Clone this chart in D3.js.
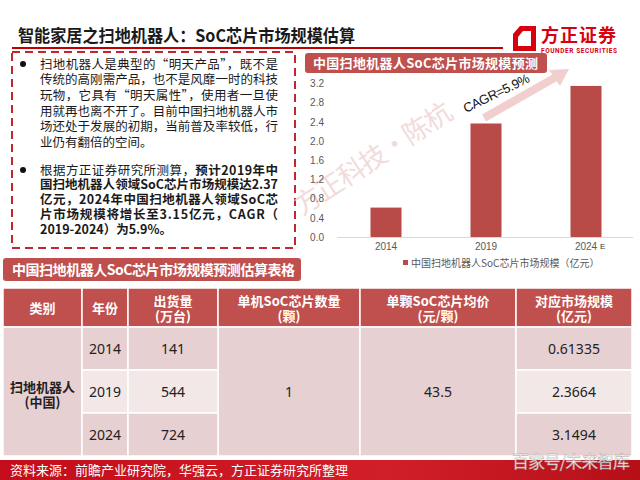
<!DOCTYPE html>
<html>
<head>
<meta charset="utf-8">
<script src="https://cdn.jsdelivr.net/npm/d3@7"></script>
<style>
  html, body { margin: 0; padding: 0; background: #fff; }
  svg { display: block; font-family: "Noto Sans CJK SC", "Noto Sans", sans-serif; }
</style>
</head>
<body>
<div class="slide"></div>
<script>
// 柱状图数据
const years = ['2014', '2019', '2024'];
const marketSize = [0.61335, 2.3664, 3.1494];
const yTicks = [0, 0.4, 0.8, 1.2, 1.6, 2.0, 2.4, 2.8, 3.2];

// 表格数据
const tableHeaders = [['类别'], ['年份'], ['出货量', '(万台)'], ['单机SoC芯片数量', '(颗)'], ['单颗SoC芯片均价', '(元/颗)'], ['对应市场规模', '(亿元)']];
const shipments = ['141', '544', '724'];
const chipsPerUnit = '1';
const chipPrice = '43.5';
const marketText = ['0.61335', '2.3664', '3.1494'];

// 文字段落(按原图换行)
const para1 = [
  '扫地机器人是典型的“明天产品”，既不是',
  '传统的高刚需产品，也不是风靡一时的科技',
  '玩物，它具有“明天属性”，使用者一旦使',
  '用就再也离不开了。目前中国扫地机器人市',
  '场还处于发展的初期，当前普及率较低，行',
  '业仍有翻倍的空间。'
];
const para2 = [
  [['根据方正证券研究所测算，', false], ['预计2019年中', true]],
  [['国扫地机器人领域SoC芯片市场规模达2.37', true]],
  [['亿元，2024年中国扫地机器人领域SoC芯', true]],
  [['片市场规模将增长至3.15亿元，CAGR（', true]],
  [['2019-2024）为5.9%。', true]]
];

const W = 640, H = 480;
const red = '#c0282d', barRed = '#b84a48', headRed = '#c0504d';
const numFont = '"Noto Sans", "Noto Sans CJK SC", sans-serif';
const svg = d3.select('.slide').append('svg').attr('width', W).attr('height', H);

const defs = svg.append('defs');
const grad = defs.append('linearGradient').attr('id', 'foot').attr('x1', 0).attr('x2', 1);
grad.append('stop').attr('offset', 0).attr('stop-color', '#c30d1a');
grad.append('stop').attr('offset', 0.6).attr('stop-color', '#d11f29');
grad.append('stop').attr('offset', 1).attr('stop-color', '#b50f18');

// 标题
svg.append('text').attr('x', 18).attr('y', 42).text('智能家居之扫地机器人：SoC芯片市场规模估算')
  .attr('textLength', 337).attr('lengthAdjust', 'spacingAndGlyphs')
  .style('font-size', '17px').style('font-weight', 'bold').style('fill', '#1a1a1a');
svg.append('line').attr('x1', 12).attr('x2', 503).attr('y1', 48).attr('y2', 48)
  .style('stroke', '#c00000').style('stroke-width', 2);

// logo
const logo = svg.append('g');
logo.append('path').attr('d', 'M520,26 L536,26 L536,51 L513,51 L513,34 Z').style('fill', '#d7000f');
logo.append('path').attr('d', 'M523,31 L531,31 L531,46 L518,46 L518,37 Z').style('fill', '#fff');
logo.append('text').attr('x', 541).attr('y', 42).text('方正证券')
  .attr('textLength', 75).style('font-size', '18px').style('font-weight', 'bold').style('fill', '#d7000f');
logo.append('text').attr('x', 541).attr('y', 53).text('FOUNDER SECURITIES')
  .attr('textLength', 76).style('font-family', 'Roboto, sans-serif')
  .style('font-size', '6.5px').style('font-weight', 'bold').style('fill', '#d7000f');

// 左侧虚线框
svg.append('rect').attr('x', 12).attr('y', 52).attr('width', 283).attr('height', 196)
  .style('fill', 'none').style('stroke', red).style('stroke-width', 2).style('stroke-dasharray', '8,5');

const textX = 40, textW = 238, fs = 12.5;
const p1g = svg.append('g').style('font-size', fs + 'px').style('fill', '#1a1a1a');
p1g.append('circle').attr('cx', 23).attr('cy', 64).attr('r', 3).style('fill', '#111');
para1.forEach((line, i) => {
  const t = p1g.append('text').attr('x', textX).attr('y', 64 + i * 15.7).attr('dy', '0.36em').text(line);
  if (i < para1.length - 1) t.attr('textLength', textW).attr('lengthAdjust', 'spacing');
});
const p2g = svg.append('g').style('font-size', fs + 'px').style('fill', '#1a1a1a');
p2g.append('circle').attr('cx', 23).attr('cy', 170).attr('r', 3).style('fill', '#111');
para2.forEach((segs, i) => {
  const t = p2g.append('text').attr('x', textX).attr('y', 170 + i * 14.9).attr('dy', '0.36em');
  segs.forEach(s => t.append('tspan').text(s[0]).style('font-weight', s[1] ? 'bold' : 'normal'));
  if (i < para2.length - 1) t.attr('textLength', textW).attr('lengthAdjust', 'spacing');
});

// 右侧柱状图
const chartHead = svg.append('g');
chartHead.append('rect').attr('x', 305).attr('y', 53).attr('width', 242).attr('height', 20).attr('rx', 3)
  .style('fill', headRed);
chartHead.append('text').attr('x', 313).attr('y', 63).attr('dy', '0.36em').text('中国扫地机器人SoC芯片市场规模预测')
  .attr('textLength', 225).style('font-size', '13px').style('font-weight', 'bold').style('fill', '#fff');

const xScale = d3.scaleBand().domain(years).range([336, 636]).paddingInner(0.69).paddingOuter(0.345);
const yScale = d3.scaleLinear().domain([0, 3.2]).range([237, 83.5]);

// 水印
svg.append('text').attr('transform', 'translate(302,216) rotate(-33)').text('方正科技·陈杭')
  .attr('textLength', 182).style('font-size', '27px').style('fill', '#ecc9c9').style('opacity', 0.65);

const yAxis = d3.axisLeft(yScale).tickValues(yTicks).tickFormat(d3.format('.1f')).tickSize(0).tickPadding(0);
const yG = svg.append('g').attr('transform', 'translate(324,0)').call(yAxis);
yG.select('.domain').remove();
yG.selectAll('text').style('font-size', '10px').style('fill', '#595959').style('font-family', 'Liberation Sans, sans-serif');

svg.append('g').selectAll('rect').data(marketSize).enter().append('rect')
  .attr('x', (d, i) => xScale(years[i])).attr('width', xScale.bandwidth())
  .attr('y', d => yScale(d)).attr('height', d => yScale(0) - yScale(d))
  .style('fill', barRed);

const xAxis = d3.axisBottom(xScale).tickSize(0).tickPadding(6);
const xG = svg.append('g').attr('transform', `translate(0,${yScale(0)})`).call(xAxis);
xG.select('.domain').remove();
xG.selectAll('text').style('font-size', '10px').style('fill', '#595959').style('font-family', 'Liberation Sans, sans-serif');
svg.append('line').attr('x1', 337).attr('x2', 633).attr('y1', yScale(0) + 0.5).attr('y2', yScale(0) + 0.5)
  .style('stroke', '#d9d9d9');
svg.append('text').attr('x', xScale('2024') + xScale.bandwidth() / 2 + 14).attr('y', 249)
  .text('E').style('font-size', '8px').style('fill', '#333').style('font-family', 'Liberation Sans, sans-serif');

// 增长箭头
svg.append('path').attr('d', 'M484,118 L556,77').style('stroke', '#f2cfcf').style('stroke-width', 8).style('fill', 'none');
svg.append('path').attr('d', 'M569,69 L549,70 L560,86 Z').style('fill', '#f2cfcf');
svg.append('text').attr('transform', 'translate(466,113) rotate(-26)').text('CAGR=5.9%')
  .attr('textLength', 72).style('font-size', '13px').style('fill', '#111').style('font-family', 'Liberation Sans, sans-serif');

// 图例
svg.append('rect').attr('x', 403).attr('y', 260).attr('width', 5).attr('height', 5).style('fill', barRed);
svg.append('text').attr('x', 411).attr('y', 263).attr('dy', '0.36em').text('中国扫地机器人SoC芯片市场规模（亿元）')
  .style('font-size', '10px').style('fill', '#595959');

// 表格标题
svg.append('rect').attr('x', 3).attr('y', 258).attr('width', 298).attr('height', 23).attr('rx', 3).style('fill', headRed);
svg.append('text').attr('x', 12).attr('y', 270).attr('dy', '0.36em').text('中国扫地机器人SoC芯片市场规模预测估算表格')
  .attr('textLength', 283).style('font-size', '14px').style('font-weight', 'bold').style('fill', '#fff');

// 表格
const colX = [3, 82, 128, 218, 360, 516, 632];
const headTop = 288, headBot = 327;
const rowY = [327, 370, 413, 456];
const pink = '#e7d0d1', light = '#f3e8e8';
const table = svg.append('g');

table.selectAll('.head').data(tableHeaders).enter().append('rect')
  .attr('x', (d, i) => colX[i]).attr('y', headTop)
  .attr('width', (d, i) => colX[i + 1] - colX[i]).attr('height', headBot - headTop)
  .style('fill', headRed).style('stroke', '#fff').style('stroke-width', 1.5);
tableHeaders.forEach((lines, i) => {
  const cx = (colX[i] + colX[i + 1]) / 2;
  const t = table.append('text').attr('text-anchor', 'middle')
    .style('font-size', '13px').style('font-weight', 'bold').style('fill', '#fff');
  lines.forEach((l, j) => {
    const y = lines.length === 1 ? 308 : 301 + j * 15;
    t.append('tspan').attr('x', cx).attr('y', y).attr('dy', '0.36em').text(l);
  });
});

// 合并单元格
[0, 3, 4].forEach(c => {
  table.append('rect').attr('x', colX[c]).attr('y', rowY[0]).attr('width', colX[c + 1] - colX[c])
    .attr('height', rowY[3] - rowY[0]).style('fill', pink).style('stroke', '#fff').style('stroke-width', 1.5);
});
[1, 2, 5].forEach(c => {
  years.forEach((y, r) => {
    table.append('rect').attr('x', colX[c]).attr('y', rowY[r]).attr('width', colX[c + 1] - colX[c])
      .attr('height', rowY[r + 1] - rowY[r]).style('fill', r === 1 ? light : pink)
      .style('stroke', '#fff').style('stroke-width', 1.5);
  });
});

const cellText = (c, y, txt, bold) => table.append('text')
  .attr('x', (colX[c] + colX[c + 1]) / 2).attr('y', y).attr('dy', '0.36em').attr('text-anchor', 'middle')
  .text(txt).style('font-size', bold ? '13px' : '14px').style('fill', '#222')
  .style('font-family', bold ? null : numFont).style('font-weight', bold ? 'bold' : 'normal');

const rowMid = years.map((y, r) => (rowY[r] + rowY[r + 1]) / 2);
years.forEach((y, r) => {
  cellText(1, rowMid[r], y, false);
  cellText(2, rowMid[r], shipments[r], false);
  cellText(5, rowMid[r], marketText[r], false);
});
cellText(0, 387, '扫地机器人', true);
cellText(0, 402, '(中国)', true);
cellText(3, rowMid[1], chipsPerUnit, false);
cellText(4, rowMid[1], chipPrice, false);

// 底部来源
svg.append('rect').attr('x', 0).attr('y', 460).attr('width', W).attr('height', 20).style('fill', 'url(#foot)');
svg.append('text').attr('x', 10).attr('y', 470).attr('dy', '0.36em').text('资料来源：前瞻产业研究院，华强云，方正证券研究所整理')
  .style('font-size', '13px').style('fill', '#fff');
svg.append('text').attr('x', 512).attr('y', 468).text('百家号/未来智库')
  .attr('textLength', 118).style('font-size', '17px').style('fill', '#fff')
  .style('stroke', '#999').style('stroke-width', 0.4).style('opacity', 0.9);
</script>
</body>
</html>
